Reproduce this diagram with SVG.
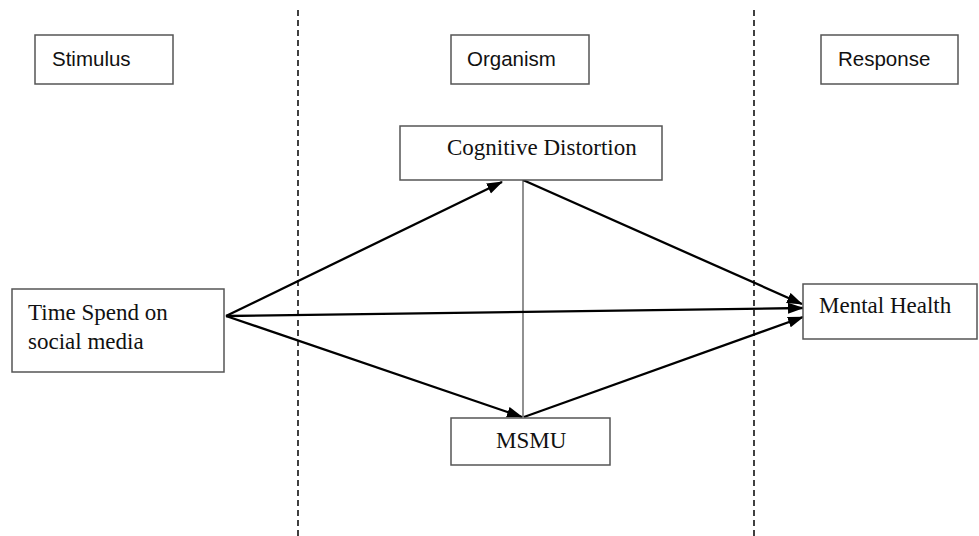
<svg xmlns="http://www.w3.org/2000/svg" width="979" height="536" viewBox="0 0 979 536">
<style>
.box{fill:#fff;stroke:#555;stroke-width:1.5}
.sans{font-family:"Liberation Sans",Arial,sans-serif;font-size:20.5px;fill:#111}
.serif{font-family:"Liberation Serif","Times New Roman",serif;font-size:23px;fill:#111}
.arr{stroke:#000;stroke-width:2.3;fill:none;marker-end:url(#ah)}
.dash{stroke:#111;stroke-width:1.6;stroke-dasharray:6 4;fill:none}
</style>
<defs>
<marker id="ah" markerUnits="userSpaceOnUse" markerWidth="16" markerHeight="12" refX="15" refY="5.5" orient="auto">
<path d="M0,0 L16,5.5 L0,11 z" fill="#000"/>
</marker>
</defs>
<g id="dividers">
<line class="dash" x1="298" y1="10" x2="298" y2="536"/>
<line class="dash" x1="754" y1="10" x2="754" y2="536"/>
</g>
<g id="stimulus">
<rect class="box" x="35" y="35" width="138" height="49"/>
<text class="sans" x="52" y="66">Stimulus</text>
</g>
<g id="organism">
<rect class="box" x="451" y="35" width="138" height="49"/>
<text class="sans" x="467" y="66">Organism</text>
</g>
<g id="response">
<rect class="box" x="821" y="35" width="137" height="49"/>
<text class="sans" x="838" y="66">Response</text>
</g>
<g id="connectors">
<line x1="523" y1="180" x2="523" y2="417" stroke="#555" stroke-width="1.3"/>
<line class="arr" x1="226" y1="316" x2="502" y2="182"/>
<line class="arr" x1="226" y1="316" x2="803" y2="308"/>
<line class="arr" x1="226" y1="316" x2="522" y2="417"/>
<line class="arr" x1="523" y1="180" x2="802" y2="304"/>
<line class="arr" x1="524" y1="417" x2="803" y2="317"/>
</g>
<g id="cognitive-distortion">
<rect class="box" x="400" y="126" width="262" height="54"/>
<text class="serif" x="447" y="155">Cognitive Distortion</text>
</g>
<g id="time-spend">
<rect class="box" x="12" y="289" width="212" height="83"/>
<text class="serif" x="28" y="320">Time Spend on</text>
<text class="serif" x="28" y="349">social media</text>
</g>
<g id="mental-health">
<rect class="box" x="803" y="284" width="174" height="55"/>
<text class="serif" x="819" y="313">Mental Health</text>
</g>
<g id="msmu">
<rect class="box" x="451" y="418" width="159" height="47"/>
<text class="serif" x="496" y="448">MSMU</text>
</g>
</svg>
